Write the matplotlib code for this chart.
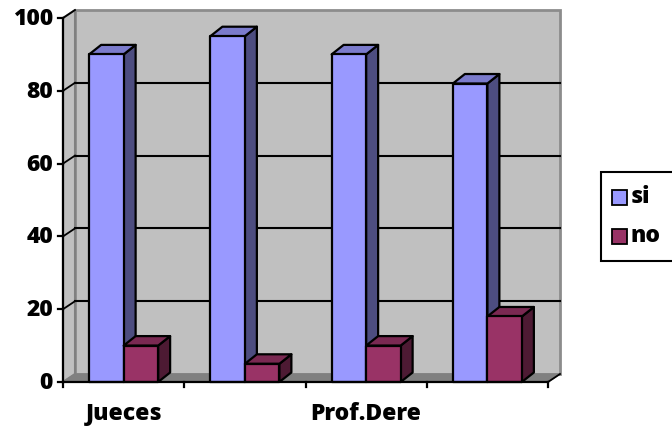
import matplotlib
matplotlib.use("Agg")
import matplotlib.pyplot as plt
from matplotlib.patches import Polygon, Rectangle

# Data
categories = ["Jueces", "", "Prof.Dere", ""]
si_values = [90, 95, 90, 82]
no_values = [10, 5, 10, 18]
y_ticks = [0, 20, 40, 60, 80, 100]
series_names = ["si", "no"]

W, H = 672, 431
fig = plt.figure(figsize=(W / 100, H / 100), dpi=100)
fig.patch.set_facecolor("white")

# plot area (front plane) in pixels
left_px, right_px, top_px, bottom_px = 63, 548, 19, 383
ax = fig.add_axes([left_px / W, 1 - bottom_px / H,
                   (right_px - left_px) / W, (bottom_px - top_px) / H])
n = len(categories)
ax.set_xlim(0, n)
ax.set_ylim(0, 100)
ax.axis("off")

px_x = n / (right_px - left_px)
px_y = 100 / (bottom_px - top_px)

# 3D depth offsets
DX = 12 * px_x
DY = 8 * px_y
BDX = 12 * px_x
BDY = 9.5 * px_y

FONT = ["Open Sans", "DejaVu Sans"]
FS = 16.5
FW = 800

# walls
side_wall = Polygon([(0, 0), (DX, DY), (DX, 100 + DY), (0, 100)], closed=True,
                    facecolor="#c0c0c0", edgecolor="#808080", lw=1.5, clip_on=False, zorder=1)
back_wall = Rectangle((DX, DY), n, 100, facecolor="#c0c0c0", edgecolor="#8c8c8c",
                      lw=2, clip_on=False, zorder=1)
floor = Polygon([(0, 0), (n, 0), (n + DX, DY), (DX, DY)], closed=True,
                facecolor="#808080", edgecolor="#808080", lw=1, clip_on=False, zorder=1)
ax.add_patch(back_wall)
ax.add_patch(side_wall)
ax.add_patch(floor)

# gridlines on back and side walls
for v in y_ticks[1:-1]:
    ax.plot([DX, n + DX], [v + DY, v + DY], color="black", lw=1.5, clip_on=False, zorder=2)
for v in y_ticks[1:]:
    ax.plot([0, DX], [v, v + DY], color="black", lw=1.3, clip_on=False, zorder=2)

# axes lines and ticks
ax.plot([0, 0], [0, 100], color="black", lw=1.6, clip_on=False, zorder=6)
ax.plot([0, n], [0, 0], color="black", lw=1.6, clip_on=False, zorder=6)
ax.plot([n, n + DX], [0, DY], color="black", lw=1.3, clip_on=False, zorder=6)
for v in y_ticks:
    ax.plot([-5 * px_x, 0], [v, v], color="black", lw=1.6, clip_on=False, zorder=6)
    ax.text(-10 * px_x, v, str(v), ha="right", va="center", fontsize=FS,
            fontweight=FW, family=FONT)
for i in range(n + 1):
    ax.plot([i, i], [0, -5 * px_y], color="black", lw=1.6, clip_on=False, zorder=6)
for i, name in enumerate(categories):
    if name:
        ax.text(i + 0.5, -31 * px_y, name, ha="center", va="center", fontsize=FS,
                fontweight=FW, family=FONT)

# bars
bar_w = 34.5 * px_x
styles = [
    ("#9999ff", "#4d4d80", "#7b7bcc"),
    ("#993366", "#4d1a33", "#7a2952"),
]


def draw_bar(x0, value, colors, z):
    front, side, top = colors
    x1 = x0 + bar_w
    ax.add_patch(Polygon([(x1, 0), (x1 + BDX, BDY), (x1 + BDX, value + BDY), (x1, value)],
                         closed=True, facecolor=side, edgecolor="black", lw=1.6,
                         joinstyle="round", clip_on=False, zorder=z))
    ax.add_patch(Polygon([(x0, value), (x1, value), (x1 + BDX, value + BDY), (x0 + BDX, value + BDY)],
                         closed=True, facecolor=top, edgecolor="black", lw=1.6,
                         joinstyle="round", clip_on=False, zorder=z))
    ax.add_patch(Rectangle((x0, 0), bar_w, value, facecolor=front, edgecolor="black",
                           lw=1.6, joinstyle="round", clip_on=False, zorder=z))


z = 3
for i in range(n):
    center = i + 0.5
    draw_bar(center - bar_w, si_values[i], styles[0], z)
    z += 0.1
    draw_bar(center, no_values[i], styles[1], z)
    z += 0.1

# legend
def fx(p):
    return p / W


def fy(p):
    return 1 - p / H


fig.patches.append(Rectangle((fx(601), fy(262)), fx(80), 89 / H, transform=fig.transFigure,
                             facecolor="white", edgecolor="black", lw=1.5))
for k, (name, colors) in enumerate(zip(series_names, styles)):
    top_y = 191 + k * 39
    fig.patches.append(Rectangle((fx(612), fy(top_y + 15)), fx(15), 15 / H,
                                 transform=fig.transFigure, facecolor=colors[0],
                                 edgecolor="black", lw=1.3))
    fig.text(fx(631), fy(top_y + 6.5), name, ha="left", va="center", fontsize=FS,
             fontweight=FW, family=FONT)

fig.savefig("out.png", dpi=100)
